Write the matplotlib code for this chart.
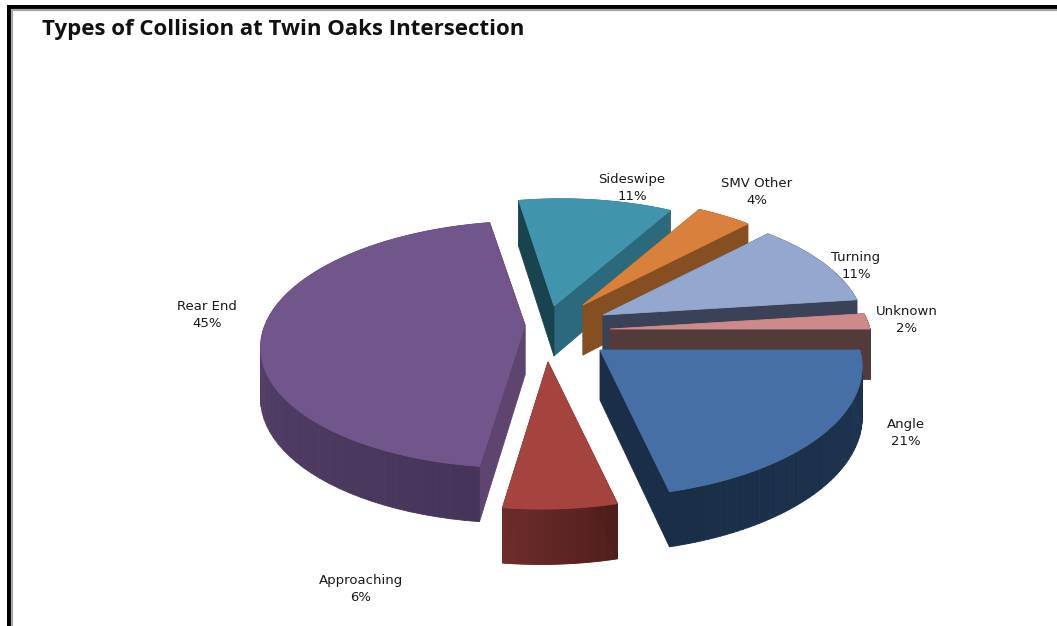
import numpy as np
from matplotlib import pyplot as plt
from matplotlib.colors import to_rgb

categorias = ['Angle', 'Approaching', 'Rear End', 'Sideswipe', 'SMV Other', 'Turning', 'Unknown']
porcentajes = [21, 6, 45, 11, 4, 11, 2]

# colores de cada porcion: cara superior, borde (izq/der) y cortes
col_arriba = ['#4670a5', '#a5443f', '#71568c', '#4095ad', '#d9813c', '#93a7cf', '#cc8b8a']
col_borde_a = ['#1a2e47', '#6b2c2a', '#5f4a78', '#2b6a7c', '#854f22', '#3a4257', '#533a3b']
col_borde_b = ['#1c3350', '#4f1d1b', '#46355a', '#2b6a7c', '#854f22', '#3a4257', '#6a3c3c']
col_corte_ini = ['#1a2e47', '#4f1d1b', '#5e4570', '#1a4350', '#854f22', '#3a4257', '#533a3b']
col_corte_fin = ['#1a2e47', '#6b2c2a', '#46355a', '#2b6a7c', '#854f22', '#3a4257', '#533a3b']

# separacion de cada porcion respecto al centro, en pixeles
expl_x = [45, -7, -30, -1, 28, 48, 55]
expl_y = [15, 27, -10, -29, -30, -20, -6]
escala_y = [1, 1, 0.97, 1, 1, 1, 1]

# posiciones de las etiquetas (centro, en pixeles)
etiq_x = [906, 361, 207, 632, 757, 856, 907]
etiq_y = [433, 589, 315, 188, 192, 266, 320]

CX, CY = 555, 335
RADIO = 260
APLASTADO = 124
PERSP = 0.157
CIZALLA = 7
GROSOR = 50

# orden de pintado: de atras hacia delante
orden = [3, 4, 5, 6, 2, 0, 1]


def proyecta(ax0, ay0, theta, esc):
    x = np.cos(theta)
    z = np.sin(theta)
    s = 1 / (1 + PERSP * z)
    return ax0 + RADIO * x * s + CIZALLA * z, ay0 - APLASTADO * esc * z * s, s


def mezcla(c1, c2, t):
    a = np.array(to_rgb(c1))
    b = np.array(to_rgb(c2))
    return tuple(a + (b - a) * t)


def pinta(ax, xs, ys, color):
    ax.fill(xs, ys, color=color, linewidth=0.6, edgecolor=color)


def pinta_porcion(ax, i, ini, fin):
    ax0 = CX + expl_x[i]
    ay0 = CY + expl_y[i]
    thetas = np.radians(np.linspace(ini, fin, 60))
    xs, ys, ss = proyecta(ax0, ay0, thetas, escala_y[i])
    hondo = GROSOR * ss ** 0.6

    def cortes():
        pinta(ax, [ax0, xs[-1], xs[-1], ax0],
              [ay0, ys[-1], ys[-1] + hondo[-1], ay0 + GROSOR], col_corte_fin[i])
        pinta(ax, [ax0, xs[0], xs[0], ax0],
              [ay0, ys[0], ys[0] + hondo[0], ay0 + GROSOR], col_corte_ini[i])

    def borde():
        for j in range(len(thetas) - 1):
            izq = j / (len(thetas) - 2)
            color = mezcla(col_borde_b[i], col_borde_a[i], izq)
            pinta(ax, [xs[j], xs[j + 1], xs[j + 1], xs[j]],
                  [ys[j], ys[j + 1], ys[j + 1] + hondo[j + 1], ys[j] + hondo[j]], color)

    # si la porcion mira al frente el borde tapa a los cortes, si no al reves
    if np.sin(np.radians((ini + fin) / 2)) < 0:
        cortes()
        borde()
    else:
        borde()
        cortes()
    # cara superior
    pinta(ax, np.r_[ax0, xs], np.r_[ay0, ys], col_arriba[i])


fig = plt.figure(figsize=(10.57, 6.26), dpi=100)
ax = fig.add_axes([0, 0, 1, 1])
ax.set_xlim(0, 1057)
ax.set_ylim(626, 0)
ax.axis('off')

# marco
ax.plot([8.5, 8.5, 1057], [626, 6.5, 6.5], color='black', linewidth=3.6, solid_joinstyle='miter')
ax.plot([11.5, 11.5, 1057], [626, 10, 10], color='#a6a6a6', linewidth=1.6, solid_joinstyle='miter')

# angulos de inicio y fin a partir de los porcentajes (sentido horario desde el este)
acumulado = np.cumsum([0] + porcentajes)
inicios = [-3.6 * a for a in acumulado[:-1]]
finales = [-3.6 * a for a in acumulado[1:]]

for i in orden:
    pinta_porcion(ax, i, inicios[i], finales[i])

for i in range(len(categorias)):
    ax.text(etiq_x[i], etiq_y[i], '{}\n{}%'.format(categorias[i], porcentajes[i]),
            ha='center', va='center', fontsize=9.5, color='#1a1a1a', linespacing=1.35,
            family='DejaVu Sans')

ax.text(42, 30, 'Types of Collision at Twin Oaks Intersection', ha='left', va='center',
        fontsize=16, fontweight='bold', family='Open Sans', color='#111111')

fig.savefig('out.png', dpi=100)
